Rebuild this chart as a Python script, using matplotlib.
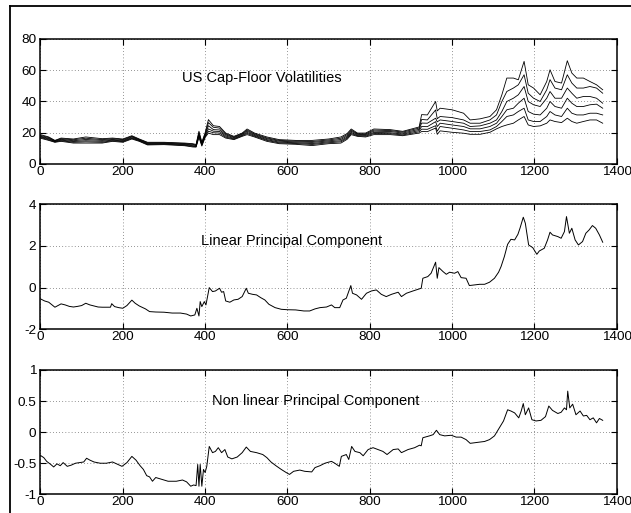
"""Cap-floor vols with linear / non-linear principal components, 3 stacked panels."""
import matplotlib
matplotlib.use("Agg")
import matplotlib.pyplot as plt
from matplotlib.lines import Line2D

plt.rcParams["font.family"] = ["Liberation Sans", "DejaVu Sans"]
plt.rcParams["axes.unicode_minus"] = False

# --- volatility curves (six maturities), shared x grid ---
vol_x = [0, 20, 35, 50, 80, 110, 150, 175, 200, 222, 240, 260, 300, 350, 370,
         378, 385, 392, 400, 408, 420, 435, 450, 470, 490, 502, 520, 550, 580,
         620, 660, 700, 730, 745, 755, 770, 790, 810, 850, 880, 920, 926, 940,
         960, 964, 971, 1000, 1028, 1044, 1068, 1092, 1108, 1121, 1133, 1149,
         1161, 1175, 1185, 1198, 1214, 1230, 1238, 1250, 1266, 1280, 1291, 1303,
         1319, 1335, 1351, 1366]
vol_1 = [18.8, 17.3, 15.1, 16.6, 16.0, 17.3, 16.2, 16.6, 16.0, 18.1, 16.0, 13.9,
         13.9, 13.4, 13.0, 12.5, 21.0, 14.0, 20.0, 28.4, 24.5, 24.0, 19.8, 17.7,
         19.8, 22.4, 19.8, 17.3, 15.6, 15.1, 15.1, 16.0, 17.3, 19.5, 22.4, 19.8,
         19.8, 22.4, 22.0, 20.9, 23.7, 31.6, 31.4, 40.0, 34.0, 35.7, 34.7, 32.5,
         28.2, 28.9, 30.4, 34.7, 44.3, 55.0, 55.0, 53.9, 65.7, 50.7, 48.6, 44.3,
         52.8, 60.3, 52.8, 51.8, 66.1, 58.2, 55.0, 55.0, 52.8, 50.7, 47.5]
vol_2 = [18.3, 16.9, 14.9, 16.2, 15.5, 16.5, 15.6, 16.2, 15.6, 17.7, 15.7, 13.6,
         13.6, 13.1, 12.6, 12.1, 20.0, 13.5, 19.0, 26.5, 23.5, 23.0, 19.2, 17.3,
         19.4, 21.7, 19.3, 16.7, 15.1, 14.6, 14.4, 15.4, 16.5, 18.8, 21.7, 19.4,
         19.3, 21.7, 21.4, 20.4, 23.0, 28.5, 28.2, 34.6, 29.0, 30.4, 29.7, 28.2,
         26.1, 26.1, 28.2, 31.4, 40.0, 46.4, 48.6, 50.7, 57.1, 45.3, 42.1, 40.0,
         47.5, 54.0, 48.6, 47.5, 57.1, 51.8, 48.6, 48.6, 49.6, 48.6, 45.3]
vol_3 = [17.8, 16.4, 14.6, 15.8, 14.9, 15.7, 15.1, 15.7, 15.1, 17.3, 15.4, 13.2,
         13.3, 12.7, 12.2, 11.8, 19.0, 13.0, 18.5, 24.5, 22.0, 21.8, 18.6, 16.9,
         19.0, 21.0, 18.8, 16.2, 14.6, 14.1, 13.8, 14.8, 15.7, 18.0, 21.0, 19.0,
         18.8, 21.0, 20.8, 19.8, 22.2, 26.2, 26.1, 29.3, 27.0, 28.2, 27.2, 26.1,
         24.0, 24.4, 26.1, 28.2, 33.6, 40.0, 42.1, 44.3, 49.6, 40.0, 37.9, 36.8,
         42.1, 46.4, 42.1, 42.1, 48.6, 45.3, 42.1, 43.2, 43.2, 42.1, 38.9]
vol_4 = [17.4, 16.0, 14.4, 15.3, 14.4, 14.9, 14.5, 15.3, 14.7, 16.8, 15.1, 12.9,
         13.0, 12.4, 11.7, 11.4, 18.5, 12.5, 18.0, 22.5, 21.0, 20.8, 17.9, 16.4,
         18.5, 20.2, 18.3, 15.6, 14.0, 13.6, 13.1, 14.2, 14.9, 17.2, 20.2, 18.5,
         18.3, 20.2, 20.0, 19.2, 21.4, 24.0, 23.9, 27.1, 24.0, 26.1, 25.0, 24.0,
         22.5, 22.5, 24.0, 26.1, 30.4, 34.7, 35.7, 38.9, 42.1, 33.6, 31.9, 31.4,
         35.7, 40.0, 36.8, 35.7, 42.1, 38.9, 36.8, 36.8, 37.9, 38.3, 35.7]
vol_5 = [17.0, 15.5, 14.1, 14.9, 13.9, 14.2, 13.9, 14.9, 14.3, 16.4, 14.8, 12.5,
         12.7, 12.0, 11.3, 11.1, 18.0, 12.0, 17.5, 21.0, 20.0, 19.8, 17.2, 16.0,
         18.1, 19.5, 17.8, 15.1, 13.5, 13.1, 12.5, 13.6, 14.2, 16.5, 19.5, 18.1,
         17.8, 19.5, 19.4, 18.6, 20.6, 22.3, 22.2, 24.5, 21.0, 24.0, 22.9, 21.8,
         20.8, 20.8, 21.8, 24.0, 27.2, 30.4, 31.4, 33.6, 35.7, 28.2, 27.2, 27.2,
         30.4, 33.6, 31.4, 30.4, 35.7, 32.5, 31.4, 31.4, 32.5, 32.5, 31.4]
vol_6 = [16.5, 15.1, 13.9, 14.5, 13.4, 13.4, 13.4, 14.5, 13.9, 16.0, 14.5, 12.2,
         12.4, 11.7, 10.9, 10.8, 17.0, 11.5, 17.0, 19.8, 18.8, 18.8, 16.6, 15.6,
         17.7, 18.8, 17.3, 14.5, 13.0, 12.6, 11.8, 13.0, 13.4, 15.8, 18.8, 17.7,
         17.3, 18.8, 18.8, 18.1, 19.8, 20.8, 20.7, 23.0, 19.0, 21.2, 20.3, 19.7,
         19.0, 19.0, 20.3, 22.5, 24.0, 25.0, 26.1, 28.2, 30.4, 25.0, 24.0, 24.4,
         26.1, 28.2, 27.2, 26.5, 29.3, 27.2, 26.1, 27.2, 28.2, 28.2, 26.1]

# --- linear principal component ---
lin_x = [0, 10, 20, 30, 35, 45, 50, 60, 70, 80, 90, 100, 110, 120, 130, 140, 150,
         160, 170, 173, 180, 190, 200, 210, 222, 230, 240, 255, 265, 280, 300,
         320, 340, 355, 365, 375, 380, 385, 388, 392, 398, 402, 405, 410, 418,
         425, 435, 440, 445, 450, 460, 470, 480, 490, 500, 505, 515, 525, 535,
         545, 555, 570, 585, 600, 620, 640, 654, 667, 679, 695, 707, 715, 727,
         735, 743, 754, 758, 768, 780, 792, 804, 816, 828, 840, 853, 869, 877,
         889, 905, 921, 925, 929, 941, 949, 960, 964, 968, 978, 986, 994, 1006,
         1014, 1022, 1034, 1042, 1055, 1067, 1079, 1091, 1103, 1113, 1119, 1127,
         1135, 1143, 1152, 1160, 1165, 1173, 1178, 1186, 1196, 1206, 1212, 1224,
         1232, 1238, 1244, 1257, 1265, 1273, 1278, 1285, 1291, 1299, 1307, 1317,
         1325, 1333, 1341, 1349, 1358, 1366]
lin_y = [-0.54, -0.64, -0.70, -0.86, -0.94, -0.83, -0.78, -0.83, -0.90, -0.93,
         -0.90, -0.86, -0.75, -0.83, -0.88, -0.93, -0.94, -0.94, -0.94, -0.77,
         -0.91, -0.96, -0.99, -0.86, -0.60, -0.75, -0.88, -1.02, -1.15, -1.17,
         -1.18, -1.22, -1.22, -1.27, -1.36, -1.31, -0.99, -1.36, -0.67, -0.91,
         -0.67, -0.83, -0.51, 0.00, -0.19, -0.16, -0.03, -0.22, -0.19, -0.64,
         -0.70, -0.59, -0.56, -0.43, -0.03, -0.27, -0.32, -0.35, -0.48, -0.59,
         -0.80, -0.96, -1.04, -1.06, -1.07, -1.12, -1.12, -1.02, -0.96, -0.93,
         -0.83, -0.96, -0.96, -0.59, -0.51, 0.10, -0.27, -0.35, -0.56, -0.27,
         -0.16, -0.11, -0.32, -0.43, -0.32, -0.22, -0.43, -0.27, -0.16, -0.06,
         -0.03, 0.45, 0.53, 0.69, 1.22, 0.45, 0.96, 0.77, 0.64, 0.74, 0.69, 0.77,
         0.48, 0.45, 0.10, 0.13, 0.16, 0.16, 0.26, 0.45, 0.74, 1.01, 1.49, 2.08,
         2.32, 2.29, 2.56, 2.85, 3.38, 3.09, 2.05, 1.92, 1.60, 1.76, 1.89, 2.29,
         2.66, 2.53, 2.45, 2.37, 2.69, 3.41, 2.61, 2.85, 2.29, 2.05, 2.21, 2.61,
         2.77, 2.98, 2.85, 2.53, 2.18]

# --- non linear principal component ---
nl_x = [0, 8, 15, 25, 32, 40, 48, 55, 65, 75, 85, 95, 105, 112, 120, 130, 145,
        160, 175, 185, 198, 210, 222, 232, 242, 250, 258, 265, 272, 280, 295,
        310, 330, 345, 355, 365, 372, 378, 382, 385, 388, 392, 396, 400, 404,
        410, 418, 425, 432, 440, 448, 455, 465, 478, 490, 500, 510, 525, 540,
        550, 560, 572, 585, 597, 605, 615, 630, 642, 659, 667, 679, 691, 707,
        715, 726, 731, 743, 749, 756, 764, 776, 784, 796, 808, 820, 832, 842,
        857, 869, 877, 893, 909, 921, 925, 929, 945, 954, 962, 970, 982, 998,
        1010, 1022, 1034, 1044, 1055, 1067, 1079, 1091, 1103, 1115, 1125, 1135,
        1143, 1152, 1162, 1168, 1173, 1178, 1186, 1194, 1204, 1216, 1227, 1235,
        1244, 1257, 1265, 1273, 1278, 1281, 1286, 1293, 1301, 1311, 1319, 1327,
        1335, 1343, 1351, 1358, 1366]
nl_y = [-0.375, -0.41, -0.47, -0.52, -0.56, -0.51, -0.54, -0.49, -0.55, -0.53,
        -0.50, -0.49, -0.48, -0.42, -0.45, -0.48, -0.50, -0.50, -0.48, -0.51,
        -0.55, -0.49, -0.39, -0.45, -0.54, -0.60, -0.70, -0.72, -0.79, -0.73,
        -0.76, -0.79, -0.79, -0.77, -0.80, -0.87, -0.85, -0.86, -0.52, -0.87,
        -0.52, -0.87, -0.60, -0.65, -0.55, -0.23, -0.33, -0.31, -0.25, -0.33,
        -0.28, -0.40, -0.43, -0.40, -0.33, -0.24, -0.31, -0.33, -0.36, -0.41,
        -0.48, -0.54, -0.60, -0.65, -0.68, -0.63, -0.61, -0.63, -0.64, -0.57,
        -0.54, -0.50, -0.47, -0.50, -0.55, -0.39, -0.36, -0.44, -0.23, -0.31,
        -0.33, -0.38, -0.28, -0.25, -0.28, -0.31, -0.36, -0.28, -0.27, -0.33,
        -0.28, -0.25, -0.21, -0.22, -0.09, -0.06, -0.04, 0.03, -0.04, -0.06,
        -0.05, -0.08, -0.08, -0.12, -0.18, -0.17, -0.16, -0.15, -0.12, -0.06,
        0.07, 0.18, 0.36, 0.34, 0.31, 0.23, 0.34, 0.46, 0.28, 0.39, 0.20, 0.18,
        0.19, 0.25, 0.42, 0.35, 0.30, 0.32, 0.39, 0.36, 0.66, 0.39, 0.45, 0.28,
        0.34, 0.26, 0.27, 0.20, 0.23, 0.15, 0.22, 0.19]

vol_ticks = [0, 20, 40, 60, 80]
lin_ticks = [-2, 0, 2, 4]
nl_ticks = [-1, -0.5, 0, 0.5, 1]
nl_labels = ["-1", "-0.5", "0", "0.5", "1"]
x_ticks = [0, 200, 400, 600, 800, 1000, 1200, 1400]

W, H = 631, 513
fig = plt.figure(figsize=(W / 100, H / 100), dpi=100)

# outer frame (only left/top edges fall inside the canvas)
fig.add_artist(Line2D([10 / W, 10 / W], [-0.1, 1 - 6 / H], transform=fig.transFigure,
                      color="black", lw=1.3))
fig.add_artist(Line2D([10 / W, 1.1], [1 - 6 / H, 1 - 6 / H], transform=fig.transFigure,
                      color="black", lw=1.3))

left = 40.5 / W
width = (616.7 - 40.5) / W
panels = [
    (164.0, 125.0),   # (bottom px, height px)
    (329.3, 125.0),
    (494.3, 124.3),
]
axes = [fig.add_axes([left, 1 - b / H, width, h / H]) for b, h in panels]


def style(ax, ylim, yticks, ylabels=None):
    ax.set_xlim(0, 1400)
    ax.set_ylim(*ylim)
    ax.set_xticks(x_ticks)
    ax.set_yticks(yticks)
    if ylabels is not None:
        ax.set_yticklabels(ylabels)
    ax.grid(True, color="black", linestyle=(0, (1, 3.5)), linewidth=0.5, alpha=0.8)
    ax.tick_params(direction="in", length=4, width=0.8, top=True, right=True,
                   labelsize=9.7)
    ax.tick_params(axis="x", pad=1.5)
    ax.tick_params(axis="y", pad=3)
    for sp in ax.spines.values():
        sp.set_linewidth(1.1)


ax = axes[0]
for s in (vol_1, vol_2, vol_3, vol_4, vol_5, vol_6):
    ax.plot(vol_x, s, color="black", lw=0.6)
style(ax, (0, 80), vol_ticks)
ax.text(343, 55, "US Cap-Floor Volatilities", fontsize=10.5, va="center")

ax = axes[1]
ax.plot(lin_x, lin_y, color="black", lw=0.7)
style(ax, (-2, 4), lin_ticks)
ax.text(390, 2.24, "Linear Principal Component", fontsize=10.5, va="center")

ax = axes[2]
ax.plot(nl_x, nl_y, color="black", lw=0.7)
style(ax, (-1, 1), nl_ticks, nl_labels)
ax.text(417, 0.5, "Non linear Principal Component", fontsize=10.5, va="center")

fig.savefig("out.png", dpi=100)
